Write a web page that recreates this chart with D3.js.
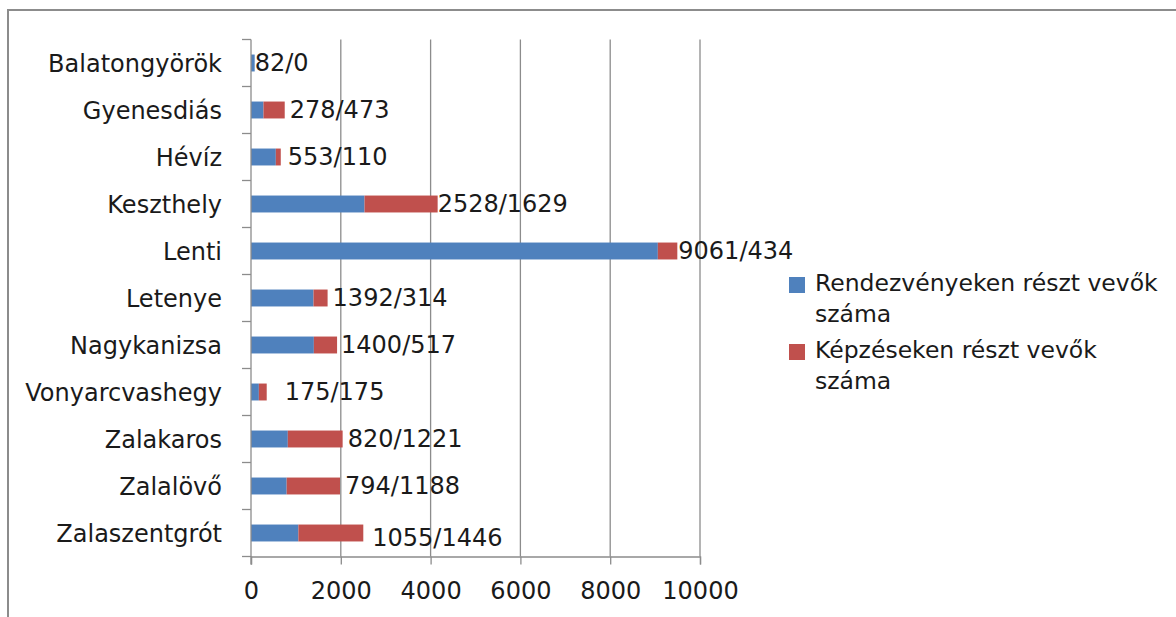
<!DOCTYPE html>
<html>
<head>
<meta charset="utf-8">
<script src="https://cdn.jsdelivr.net/npm/d3@7"></script>
<style>
  body { margin: 0; background: #fff; }
  text { font-family: "DejaVu Sans", sans-serif; fill: #1a1a1a; }
</style>
</head>
<body>
<div id="chart"></div>
<script>
// data
const towns = ['Balatongyörök', 'Gyenesdiás', 'Hévíz', 'Keszthely', 'Lenti', 'Letenye',
  'Nagykanizsa', 'Vonyarcvashegy', 'Zalakaros', 'Zalalövő', 'Zalaszentgrót'];
const rendezveny = [82, 278, 553, 2528, 9061, 1392, 1400, 175, 820, 794, 1055];
const kepzes = [0, 473, 110, 1629, 434, 314, 517, 175, 1221, 1188, 1446];
const xTicks = [0, 2000, 4000, 6000, 8000, 10000];
const seriesNames = [['Rendezvényeken részt vevők', 'száma'], ['Képzéseken részt vevők', 'száma']];
// hand nudges of the value labels, as in the original
const labelNudge = [[0, 0], [5, 0], [7, 0], [0, 0], [1, 0], [5, 0], [4, 0], [18, 0], [5, 0], [5, 0], [9, 5]];

const width = 1176;
const height = 617;
const colors = ['#4f81bd', '#c0504d'];
const gridColor = '#8c8c8c';

const svg = d3.select('#chart')
  .append('svg')
  .attr('width', width)
  .attr('height', height);

// outer frame (runs off the right and bottom edges)
svg.append('rect')
  .attr('x', 8)
  .attr('y', 10)
  .attr('width', 1300)
  .attr('height', 800)
  .attr('fill', 'none')
  .attr('stroke', gridColor)
  .attr('stroke-width', 2);

const x = d3.scaleLinear()
  .domain([0, 10000])
  .range([251, 700]);

const y = d3.scaleBand()
  .domain(towns)
  .range([39.5, 556.5])
  .paddingInner(0.64)
  .paddingOuter(0.32);

const plotTop = y.range()[0];
const plotBottom = y.range()[1];
const step = y.step();

// vertical gridlines
svg.append('g')
  .selectAll('line')
  .data(xTicks.slice(1))
  .join('line')
  .attr('x1', d => x(d))
  .attr('x2', d => x(d))
  .attr('y1', plotTop)
  .attr('y2', plotBottom)
  .attr('stroke', gridColor)
  .attr('stroke-width', 1.3);

// stacked bars
const stacked = towns.map((t, i) => ({town: t, a: rendezveny[i], b: kepzes[i]}));

const bars = svg.append('g');
bars.selectAll('.blue')
  .data(stacked)
  .join('rect')
  .attr('class', 'blue')
  .attr('x', x(0))
  .attr('y', d => y(d.town))
  .attr('width', d => x(d.a) - x(0))
  .attr('height', y.bandwidth())
  .attr('fill', colors[0]);

bars.selectAll('.red')
  .data(stacked)
  .join('rect')
  .attr('class', 'red')
  .attr('x', d => x(d.a))
  .attr('y', d => y(d.town))
  .attr('width', d => x(d.a + d.b) - x(d.a))
  .attr('height', y.bandwidth())
  .attr('fill', colors[1]);

// value labels
svg.append('g')
  .selectAll('text')
  .data(stacked)
  .join('text')
  .attr('x', (d, i) => x(d.a + d.b) + labelNudge[i][0])
  .attr('y', (d, i) => y(d.town) + y.bandwidth() / 2 + labelNudge[i][1])
  .attr('dy', '0.33em')
  .attr('font-size', 24)
  .text(d => d.a + '/' + d.b);

// category axis (ticks sit between the bands)
const yAxis = svg.append('g');
yAxis.append('line')
  .attr('x1', x(0)).attr('x2', x(0))
  .attr('y1', plotTop).attr('y2', plotBottom + 8)
  .attr('stroke', gridColor)
  .attr('stroke-width', 1.3);
yAxis.selectAll('.tick')
  .data(d3.range(towns.length + 1))
  .join('line')
  .attr('class', 'tick')
  .attr('x1', x(0) - 9).attr('x2', x(0))
  .attr('y1', i => plotTop + i * step)
  .attr('y2', i => plotTop + i * step)
  .attr('stroke', gridColor)
  .attr('stroke-width', 1.3);
yAxis.selectAll('text')
  .data(towns)
  .join('text')
  .attr('x', x(0) - 29)
  .attr('y', d => y(d) + y.bandwidth() / 2)
  .attr('dy', '0.36em')
  .attr('text-anchor', 'end')
  .attr('font-size', 24)
  .text(d => d);

// value axis
const xAxis = d3.axisBottom(x)
  .tickValues(xTicks)
  .tickFormat(d3.format('d'))
  .tickSize(8)
  .tickPadding(17);

const gx = svg.append('g')
  .attr('transform', `translate(0, ${plotBottom})`)
  .call(xAxis);
gx.select('.domain').attr('stroke', gridColor).attr('stroke-width', 1.3);
gx.selectAll('.tick line').attr('stroke', gridColor).attr('stroke-width', 1.3);
gx.selectAll('.tick text')
  .attr('font-size', 24)
  .attr('font-family', '"DejaVu Sans", sans-serif')
  .attr('fill', '#1a1a1a');

// legend
const legend = svg.append('g')
  .attr('transform', 'translate(789, 277)');
const entry = legend.selectAll('g')
  .data(seriesNames)
  .join('g')
  .attr('transform', (d, i) => `translate(0, ${i * 67})`);
entry.append('rect')
  .attr('width', 16)
  .attr('height', 16)
  .attr('fill', (d, i) => colors[i]);
entry.append('text')
  .attr('x', 26)
  .attr('y', 14)
  .attr('font-size', 23.5)
  .selectAll('tspan')
  .data(d => d)
  .join('tspan')
  .attr('x', 26)
  .attr('dy', (d, i) => i === 0 ? 0 : 31)
  .text(d => d);
</script>
</body>
</html>
